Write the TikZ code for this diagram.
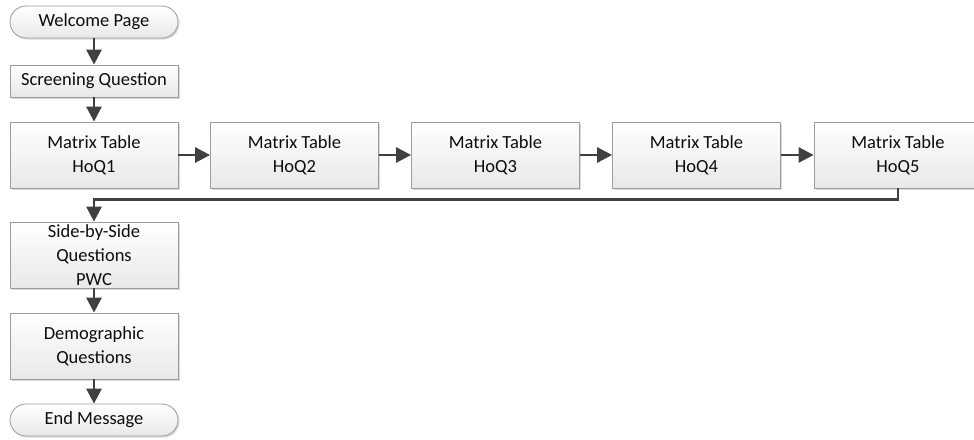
\documentclass[tikz,border=0pt]{standalone}
\usepackage{fontspec}
\setmainfont{Carlito}
\usetikzlibrary{arrows.meta,shadows}
\definecolor{edgegray}{HTML}{9C9C9C}
\definecolor{linkgray}{HTML}{404040}
\begin{document}
\begin{tikzpicture}[x=1pt,y=-1pt,
  every node/.style={font=\fontsize{18.5}{24}\selectfont, text=black!95, align=center},
  basebox/.style={draw=edgegray, line width=0.8pt, top color=white, bottom color=black!9,
    drop shadow={shadow xshift=1.5pt, shadow yshift=-1.5pt, opacity=0.25, fill=black!60},
    minimum width=168pt, inner sep=0pt},
  stepbox/.style={basebox, rectangle, minimum height=66pt},
  slimbox/.style={basebox, rectangle, minimum height=32pt},
  termbox/.style={basebox, rectangle, rounded corners=16pt, minimum height=32pt},
  link/.style={draw=linkgray, line width=2.8pt, -{Triangle[length=15pt,width=15pt]}}
]
\useasboundingbox (0,0) rectangle (974,439);

% start and screening
\node[termbox] (welcome) at (94,22) {Welcome Page};
\node[slimbox] (screen) at (94,81) {Screening Question};

% House of Quality matrix tables
\node[stepbox] (m1) at (94,155) {Matrix Table\\HoQ1};
\node[stepbox] (m2) at (294.5,155) {Matrix Table\\HoQ2};
\node[stepbox] (m3) at (495.5,155) {Matrix Table\\HoQ3};
\node[stepbox] (m4) at (696.5,155) {Matrix Table\\HoQ4};
\node[stepbox] (m5) at (898,155) {Matrix Table\\HoQ5};

% remaining questions and end
\node[stepbox] (sbs) at (94,255) {Side-by-Side\\Questions\\PWC};
\node[stepbox] (demo) at (94,346) {Demographic\\Questions};
\node[termbox] (endmsg) at (94,420) {End Message};

% connectors
\draw[link] (welcome) -- (screen);
\draw[link] (screen) -- (m1);
\draw[link] (m1) -- (m2);
\draw[link] (m2) -- (m3);
\draw[link] (m3) -- (m4);
\draw[link] (m4) -- (m5);
\draw[link] (m5.south) -- ++(0,11) -| (sbs.north);
\draw[link] (sbs) -- (demo);
\draw[link] (demo) -- (endmsg);
\end{tikzpicture}
\end{document}
